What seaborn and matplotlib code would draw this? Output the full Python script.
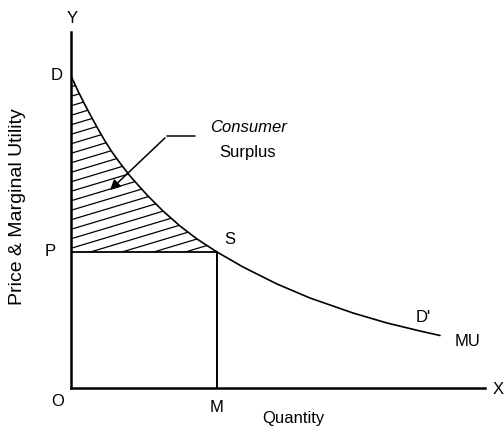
import numpy as np
import matplotlib
matplotlib.use("Agg")
import matplotlib.pyplot as plt
from matplotlib.patches import Polygon
import seaborn as sns

# points read along the MU (demand) curve: quantity, marginal utility
mu_q = [0.0, 0.7, 1.4, 2.1, 2.7, 3.4, 4.1, 4.9, 5.9, 7.6, 9.2, 10.9, 12.6, 14.6,
        17.2, 20.6, 23.9, 28.2, 31.6, 34.9, 36.9]
mu_p = [31.2, 29.7, 28.3, 27.0, 25.9, 24.7, 23.6, 22.5, 21.2, 19.3, 17.7, 16.2, 14.9, 13.6,
        12.1, 10.4, 9.0, 7.5, 6.5, 5.7, 5.25]

# market price P and quantity bought M (point S)
price_p = 13.6
qty_m = 14.6

sns.set_style("white")
plt.rcParams['font.family'] = ['Liberation Sans', 'DejaVu Sans']
plt.rcParams['text.color'] = 'black'

fig = plt.figure(figsize=(5.04, 4.26), dpi=100)
ax = fig.add_axes([71/504, 38/426, (485-71)/504, (388-32)/426])
ax.set_xlim(0, 41.4)
ax.set_ylim(0, 35.6)
ax.set_xticks([])
ax.set_yticks([])
for side in ['top', 'right']:
    ax.spines[side].set_visible(False)
for side in ['left', 'bottom']:
    ax.spines[side].set_linewidth(1.8)
    ax.spines[side].set_color('black')

#MU curve
sns.lineplot(x=mu_q, y=mu_p, ax=ax, color='black', linewidth=1.2, sort=False, estimator=None)

#price line and quantity line
ax.plot([0, qty_m], [price_p, price_p], color='black', linewidth=1.3)
ax.plot([qty_m, qty_m], [0, price_p], color='black', linewidth=1.4)

#consumer surplus region, hatched
verts = [(q, p) for q, p in zip(mu_q, mu_p) if q <= qty_m] + [(0, price_p)]
area = Polygon(verts, closed=True, fill=False, linewidth=0)
ax.add_patch(area)
slope = 0.3
for c in np.arange(price_p - slope*qty_m, mu_p[0] + 0.5, 0.95):
    ln, = ax.plot([0, qty_m], [c, c + slope*qty_m], color='black', linewidth=0.9)
    ln.set_clip_path(area)

#leader to the label
ax.plot([12.4, 9.6], [25.2, 25.2], color='black', linewidth=1.1)
ax.annotate('', xy=(3.7, 19.6), xytext=(9.6, 25.2),
            arrowprops=dict(arrowstyle='-|>,head_length=0.6,head_width=0.3', color='black', lw=1.1))
ax.text(17.7, 26.1, 'Consumer', style='italic', fontsize=12, ha='center', va='center')
ax.text(17.7, 23.6, 'Surplus', fontsize=12, ha='center', va='center')

#point labels
fs = 12
labels = [('Y', 0.1, 37.0), ('D', -1.4, 31.3), ('P', -2.1, 13.7), ('S', 15.9, 14.9),
          ('O', -1.3, -1.4), ('M', 14.6, -1.9), ('X', 42.7, -0.2),
          ("D'", 35.2, 7.0), ('MU', 39.7, 4.6)]
for t, x, y in labels:
    ax.text(x, y, t, fontsize=fs, ha='center', va='center', clip_on=False)

ax.text(22.2, -3.0, 'Quantity', fontsize=12, ha='center', va='center', clip_on=False)
ax.text(-5.4, 18.1, 'Price & Marginal Utility', fontsize=14, rotation=90,
        ha='center', va='center', clip_on=False)

plt.savefig('out.png', dpi=100)
